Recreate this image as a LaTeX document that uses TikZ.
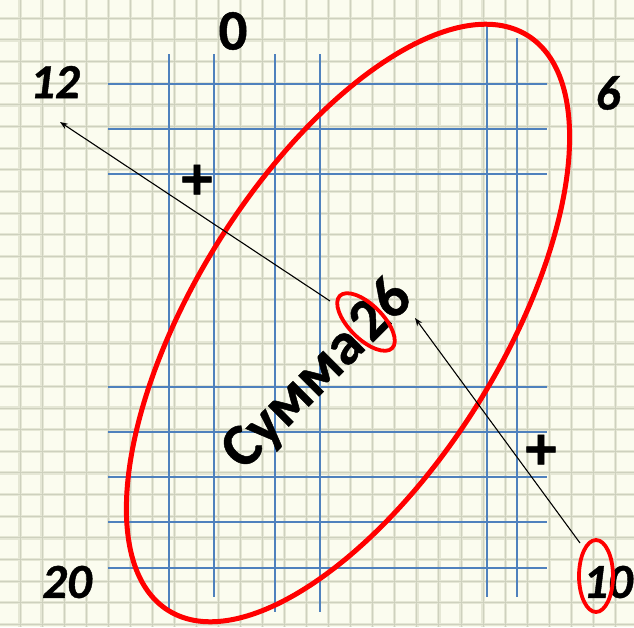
\documentclass[tikz,border=0pt]{standalone}
\usepackage{fontspec}
\newfontface\heavyb{Carlito Bold}[FakeBold=0.8]
\newfontface\heavybi{Carlito Bold Italic}[FakeBold=0.8]
\usetikzlibrary{arrows.meta}
\definecolor{paper}{RGB}{251,252,239}
\definecolor{gridc}{RGB}{229,231,213}
\definecolor{gridd}{RGB}{206,209,190}
\definecolor{blueln}{RGB}{79,129,189}
\definecolor{redln}{RGB}{255,0,0}
\tikzset{
  gridwide/.style={gridc, line width=3.2pt},
  gridthin/.style={gridd, line width=1pt},
  blueline/.style={blueln, line width=1.8pt},
  redring/.style={redln, line width=5pt},
  smallring/.style={redln, line width=3.8pt},
  numlabel/.style={inner sep=0pt, font=\heavybi\fontsize{49}{49}\selectfont},
  zerolabel/.style={inner sep=0pt, font=\heavyb\fontsize{57}{57}\selectfont},
  pluslabel/.style={inner sep=0pt, font=\heavyb\fontsize{62}{62}\selectfont},
  sumlabel/.style={inner sep=0pt, font=\heavyb\fontsize{60}{60}\selectfont},
  arr/.style={black, line width=1.1pt, -{Stealth[length=8pt,width=6pt]}}
}
\begin{document}
\begin{tikzpicture}[x=1pt,y=-1pt]
\useasboundingbox (0,0) rectangle (634,627);
\fill[paper] (0,0) rectangle (634,627);
% background squared paper
\foreach \k in {0,...,28} {
  \draw[gridwide] ({20+22.05*\k},0) -- ({20+22.05*\k},627);
}
\foreach \k in {0,...,28} {
  \draw[gridwide] (0,{18.3+21.65*\k}) -- (634,{18.3+21.65*\k});
}
\foreach \k in {0,...,28} {
  \draw[gridthin] ({20+22.05*\k},0) -- ({20+22.05*\k},627);
}
\foreach \k in {0,...,28} {
  \draw[gridthin] (0,{18.3+21.65*\k}) -- (634,{18.3+21.65*\k});
}
% blue lines
\foreach \y in {84,129,174,387,432,477,522,568} {
  \draw[blueline] (108,\y) -- (547,\y);
}
\draw[blueline] (169,54) -- (169,610);
\draw[blueline] (214,54) -- (214,597);
\draw[blueline] (275,54) -- (275,612);
\draw[blueline] (320,54) -- (320,612);
\draw[blueline] (487,23) -- (487,597);
\draw[blueline] (517,38) -- (517,597);
% big red ellipse
\draw[redring, rotate around={58:(348,323)}] (348,323) ellipse [x radius=339, y radius=153];
% labels
\node[zerolabel] (zero) at (233,31) {0};
\node[numlabel] (twelve) at (55,82) {12};
\node[numlabel] (six) at (608,93) {6};
\node[numlabel] (twenty) at (67,582) {20};
\node[numlabel] (ten) at (608,582) {10};
\node[pluslabel] (plusA) at (197,182) {+};
\node[pluslabel] (plusB) at (541,452) {+};
\node[sumlabel, rotate=45] (sum) at (318,375) {Сумма\hspace{0.1em}26};
% small red ellipses
\draw[smallring, rotate around={-45:(366,322)}] (366,322) ellipse [x radius=37, y radius=17];
\draw[smallring] (596,576) ellipse [x radius=17, y radius=36];
% arrows
\coordinate (a1s) at (330,301);
\coordinate (a1e) at (60,122);
\coordinate (a2s) at (580,543);
\coordinate (a2e) at (415,318);
\draw[arr] (a1s) -- (a1e);
\draw[arr] (a2s) -- (a2e);
\end{tikzpicture}
\end{document}
